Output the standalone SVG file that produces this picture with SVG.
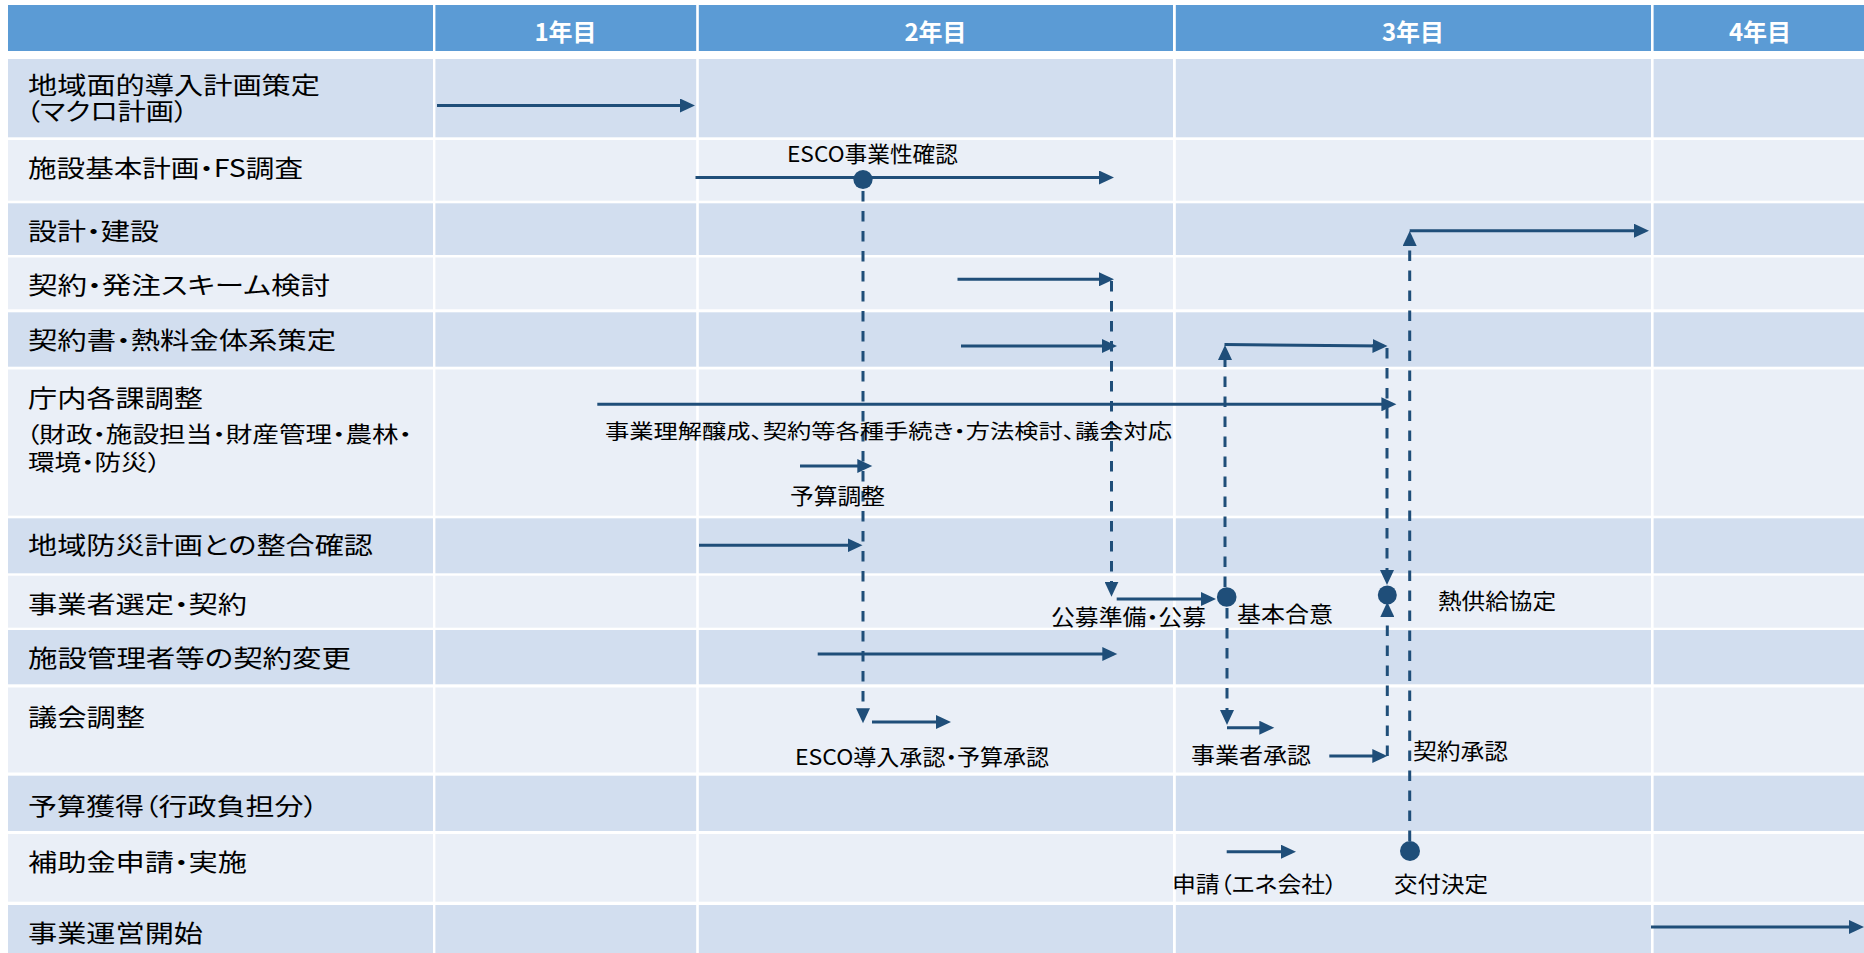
<svg xmlns="http://www.w3.org/2000/svg" width="1864" height="953" viewBox="0 0 1864 953">
<style>
.hd{fill:#5B9BD5}
.dk{fill:#D2DEEF}
.lt{fill:#EAEFF7}
.sep{fill:#FFFFFF}
text{font-family:"Noto Sans CJK JP","Noto Sans",sans-serif;font-feature-settings:"palt";fill:#000}
.ht{font-size:24px;font-weight:bold;fill:#FFFFFF}
.rl{font-size:24px}
.rs{font-size:22px}
.lb{font-size:22px}
.sm{font-size:20px}
.ln{stroke:#1F4E79;stroke-width:3;fill:none}
.ds{stroke:#1F4E79;stroke-width:3;fill:none;stroke-dasharray:10.5 9.5}
.dot{fill:#1F4E79}
</style>
<defs>
<marker id="ah" markerUnits="userSpaceOnUse" markerWidth="16" markerHeight="14" refX="11" refY="7" orient="auto"><path d="M0,0 L15,7 L0,14 Z" fill="#1F4E79"/></marker>
</defs>
<rect x="0" y="0" width="1864" height="953" fill="#FFFFFF"/>
<g id="grid">
<rect class="hd" x="8" y="5" width="1856" height="46"/>
<rect class="dk" x="8" y="59" width="1856" height="78.3"/>
<rect class="lt" x="8" y="140" width="1856" height="60.7"/>
<rect class="dk" x="8" y="203.3" width="1856" height="51.7"/>
<rect class="lt" x="8" y="257.5" width="1856" height="51.8"/>
<rect class="dk" x="8" y="312.3" width="1856" height="54.4"/>
<rect class="lt" x="8" y="369.5" width="1856" height="146.2"/>
<rect class="dk" x="8" y="518.3" width="1856" height="55"/>
<rect class="lt" x="8" y="575.7" width="1856" height="52"/>
<rect class="dk" x="8" y="630" width="1856" height="54.3"/>
<rect class="lt" x="8" y="687.5" width="1856" height="85"/>
<rect class="dk" x="8" y="775.7" width="1856" height="55.3"/>
<rect class="lt" x="8" y="834" width="1856" height="67.7"/>
<rect class="dk" x="8" y="905" width="1856" height="48"/>
<rect class="sep" x="433" y="0" width="2.4" height="953"/>
<rect class="sep" x="696.2" y="0" width="2.6" height="953"/>
<rect class="sep" x="1173" y="0" width="2.8" height="953"/>
<rect class="sep" x="1651" y="0" width="2.6" height="953"/>
</g>
<g id="header">
<text class="ht" x="565.5" y="41" text-anchor="middle">1年目</text>
<text class="ht" x="935.5" y="41" text-anchor="middle">2年目</text>
<text class="ht" x="1413" y="41" text-anchor="middle">3年目</text>
<text class="ht" x="1760" y="41" text-anchor="middle">4年目</text>
</g>
<g id="row-labels">
<g id="task-01"><text class="rl"><tspan x="28" y="93.5" textLength="292" lengthAdjust="spacingAndGlyphs">地域面的導入計画策定</tspan><tspan x="26" y="120" textLength="162" lengthAdjust="spacingAndGlyphs">（マクロ計画）</tspan></text></g>
<g id="task-02"><text class="rl" x="28" y="176.5" textLength="275" lengthAdjust="spacingAndGlyphs">施設基本計画・FS調査</text></g>
<g id="task-03"><text class="rl" x="28" y="240" textLength="131" lengthAdjust="spacingAndGlyphs">設計・建設</text></g>
<g id="task-04"><text class="rl" x="28" y="293.5" textLength="302" lengthAdjust="spacingAndGlyphs">契約・発注スキーム検討</text></g>
<g id="task-05"><text class="rl" x="28" y="349" textLength="308" lengthAdjust="spacingAndGlyphs">契約書・熱料金体系策定</text></g>
<g id="task-06"><text class="rl" x="28" y="406.5" textLength="175" lengthAdjust="spacingAndGlyphs">庁内各課調整</text><text class="rs"><tspan x="26" y="441.5" textLength="386" lengthAdjust="spacingAndGlyphs">（財政・施設担当・財産管理・農林・</tspan><tspan x="28" y="470" textLength="133" lengthAdjust="spacingAndGlyphs">環境・防災）</tspan></text></g>
<g id="task-07"><text class="rl" x="28" y="553.5" textLength="345" lengthAdjust="spacingAndGlyphs">地域防災計画との整合確認</text></g>
<g id="task-08"><text class="rl" x="28" y="612.5" textLength="219" lengthAdjust="spacingAndGlyphs">事業者選定・契約</text></g>
<g id="task-09"><text class="rl" x="28" y="666.5" textLength="323" lengthAdjust="spacingAndGlyphs">施設管理者等の契約変更</text></g>
<g id="task-10"><text class="rl" x="28" y="725.5" textLength="117" lengthAdjust="spacingAndGlyphs">議会調整</text></g>
<g id="task-11"><text class="rl" x="28" y="814.5" textLength="290" lengthAdjust="spacingAndGlyphs">予算獲得（行政負担分）</text></g>
<g id="task-12"><text class="rl" x="28" y="871" textLength="219" lengthAdjust="spacingAndGlyphs">補助金申請・実施</text></g>
<g id="task-13"><text class="rl" x="28" y="941.5" textLength="175" lengthAdjust="spacingAndGlyphs">事業運営開始</text></g>
</g>
<g id="connectors">
<line class="ln" x1="437" y1="105.5" x2="691" y2="105.5" marker-end="url(#ah)"/>
<line class="ln" x1="695.5" y1="177.5" x2="1110" y2="177.5" marker-end="url(#ah)"/>
<line class="ln" x1="957.5" y1="279.3" x2="1110" y2="279.3" marker-end="url(#ah)"/>
<line class="ln" x1="961" y1="346" x2="1113" y2="346" marker-end="url(#ah)"/>
<polyline class="ln" points="1224.5,344.5 1383.5,346" marker-end="url(#ah)"/>
<line class="ln" x1="597.3" y1="404.3" x2="1392.4" y2="404.3" marker-end="url(#ah)"/>
<line class="ln" x1="800" y1="466" x2="868.3" y2="466" marker-end="url(#ah)"/>
<line class="ln" x1="699" y1="545.3" x2="858.5" y2="545.3" marker-end="url(#ah)"/>
<line class="ln" x1="1116.7" y1="599" x2="1212" y2="599" marker-end="url(#ah)"/>
<line class="ln" x1="817.7" y1="654" x2="1113.3" y2="654" marker-end="url(#ah)"/>
<line class="ln" x1="872" y1="722" x2="947" y2="722" marker-end="url(#ah)"/>
<line class="ln" x1="1227" y1="727.7" x2="1270.3" y2="727.7" marker-end="url(#ah)"/>
<line class="ln" x1="1329.3" y1="756" x2="1383.3" y2="756" marker-end="url(#ah)"/>
<line class="ln" x1="1226.7" y1="851.7" x2="1292" y2="851.7" marker-end="url(#ah)"/>
<line class="ln" x1="1409.7" y1="230.7" x2="1645" y2="230.7" marker-end="url(#ah)"/>
<line class="ln" x1="1651" y1="927" x2="1860" y2="927" marker-end="url(#ah)"/>
<line class="ds" x1="863" y1="191" x2="863" y2="719.3" marker-end="url(#ah)"/>
<line class="ds" x1="1111.5" y1="281" x2="1111.5" y2="592.7" marker-end="url(#ah)"/>
<line class="ds" x1="1225" y1="587" x2="1225" y2="349" marker-end="url(#ah)"/>
<line class="ds" x1="1227" y1="608" x2="1227" y2="721" marker-end="url(#ah)"/>
<line class="ds" x1="1387" y1="348" x2="1387" y2="581" marker-end="url(#ah)"/>
<line class="ds" x1="1387.3" y1="756" x2="1387.3" y2="606" marker-end="url(#ah)"/>
<line class="ds" x1="1409.7" y1="841" x2="1409.7" y2="235" marker-end="url(#ah)"/>
</g>
<g id="milestones">
<g id="m-esco"><circle class="dot" cx="863" cy="179.5" r="9.6"/><text class="lb" x="787" y="162" textLength="171" lengthAdjust="spacingAndGlyphs">ESCO事業性確認</text></g>
<g id="m-kihon"><circle class="dot" cx="1226.7" cy="597" r="9.8"/><text class="lb" x="1237" y="621.5" textLength="96" lengthAdjust="spacingAndGlyphs">基本合意</text></g>
<g id="m-netsu"><circle class="dot" cx="1387.3" cy="595" r="9.5"/><text class="lb" x="1438" y="609" textLength="118" lengthAdjust="spacingAndGlyphs">熱供給協定</text></g>
<g id="m-kofu"><circle class="dot" cx="1410" cy="851" r="10"/><text class="lb" x="1394" y="892" textLength="94" lengthAdjust="spacingAndGlyphs">交付決定</text></g>
</g>
<g id="labels">
<g id="l-rikai"><text class="sm" x="605" y="439" textLength="567" lengthAdjust="spacingAndGlyphs">事業理解醸成、契約等各種手続き・方法検討、議会対応</text></g>
<g id="l-yosan"><text class="lb" x="790" y="503.5" textLength="95" lengthAdjust="spacingAndGlyphs">予算調整</text></g>
<g id="l-esco-shonin"><text class="lb" x="795" y="765" textLength="254" lengthAdjust="spacingAndGlyphs">ESCO導入承認・予算承認</text></g>
<g id="l-kobo"><text class="lb" x="1051" y="625" textLength="155" lengthAdjust="spacingAndGlyphs">公募準備・公募</text></g>
<g id="l-jigyosha"><text class="lb" x="1191" y="762.5" textLength="120" lengthAdjust="spacingAndGlyphs">事業者承認</text></g>
<g id="l-keiyaku"><text class="lb" x="1413" y="758.5" textLength="95" lengthAdjust="spacingAndGlyphs">契約承認</text></g>
<g id="l-shinsei"><text class="lb" x="1172" y="892" textLength="165" lengthAdjust="spacingAndGlyphs">申請（エネ会社）</text></g>
</g>
</svg>
